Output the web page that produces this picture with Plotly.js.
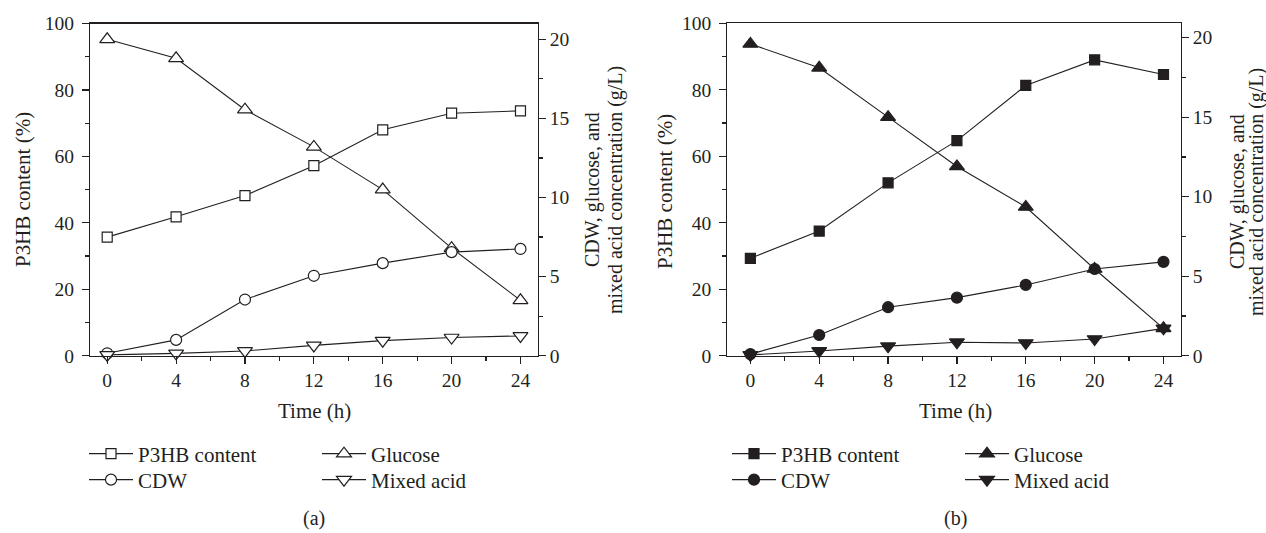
<!DOCTYPE html>
<html>
<head>
<meta charset="utf-8">
<script src="https://cdn.plot.ly/plotly-3.0.1.min.js"></script>
<style>html,body{margin:0;padding:0;background:#fff;}#chart{width:1266px;height:533px;}</style>
</head>
<body>
<div id="chart"></div>
<script>
// ---- data ----
const time = [0, 4, 8, 12, 16, 20, 24];
const xTicks = [0, 4, 8, 12, 16, 20, 24];
// panel (a)
const aP3HB = [35.7, 41.8, 48.2, 57.2, 68.0, 73.0, 73.7];      // %
const aGlucose = [20.0, 18.8, 15.55, 13.2, 10.5, 6.8, 3.5];   // g/L
const aCDW = [0.15, 1.0, 3.55, 5.05, 5.85, 6.55, 6.75];       // g/L
const aAcid = [0.05, 0.15, 0.3, 0.65, 0.95, 1.15, 1.25];      // g/L
// panel (b)
const bP3HB = [29.3, 37.5, 52.0, 64.7, 81.3, 89.0, 84.6];
const bGlucose = [19.6, 18.1, 15.0, 11.9, 9.35, 5.45, 1.72];
const bCDW = [0.1, 1.3, 3.05, 3.65, 4.45, 5.45, 5.9];
const bAcid = [0.05, 0.3, 0.6, 0.85, 0.8, 1.05, 1.72];

const names = ['P3HB content', 'Glucose', 'CDW', 'Mixed acid'];
const leftTitle = 'P3HB content (%)';
const rightTitle1 = 'CDW, glucose, and';
const rightTitle2 = 'mixed acid concentration (g/L)';
const xTitle = 'Time (h)';

// ---- geometry helpers ----
const W = 1266, H = 533;
const px = v => v / W;
const py = v => 1 - v / H;
const FONT = 'Liberation Serif, Times New Roman, serif';
const INK = '#231f20';

function mk(x, y, name, symbol, fill, size, xa, ya, leg) {
  return {
    x: x, y: y, name: name, type: 'scatter', mode: 'lines+markers',
    xaxis: xa, yaxis: ya, legend: leg,
    line: {color: INK, width: 1.1},
    marker: {symbol: symbol, size: size, color: fill, line: {color: INK, width: 1.2}},
    cliponaxis: false
  };
}

const traces = [
  // panel a
  mk(time, aP3HB, names[0], 'square', '#fff', 10, 'x', 'y', 'legend'),
  mk(time, aGlucose, names[1], 'triangle-up', '#fff', 13, 'x', 'y2', 'legend'),
  mk(time, aCDW, names[2], 'circle', '#fff', 11, 'x', 'y2', 'legend2'),
  mk(time, aAcid, names[3], 'triangle-down', '#fff', 13, 'x', 'y2', 'legend2'),
  // panel b
  mk(time, bP3HB, names[0], 'square', INK, 10, 'x2', 'y3', 'legend3'),
  mk(time, bGlucose, names[1], 'triangle-up', INK, 13, 'x2', 'y4', 'legend3'),
  mk(time, bCDW, names[2], 'circle', INK, 11, 'x2', 'y4', 'legend4'),
  mk(time, bAcid, names[3], 'triangle-down', INK, 13, 'x2', 'y4', 'legend4')
];

const tickFont = {family: FONT, size: 19.5, color: INK};
const baseAxis = {
  showgrid: false, zeroline: false, showline: true, linecolor: INK, linewidth: 1.2,
  ticks: 'outside', ticklen: 7, tickwidth: 1.2, tickcolor: INK, tickfont: tickFont,
  fixedrange: true
};
function xAxis(dom, anchor, r) {
  return Object.assign({}, baseAxis, {
    domain: dom, anchor: anchor, range: r, tickvals: xTicks, mirror: true,
    minor: {dtick: 2, ticks: 'outside', ticklen: 4, tickcolor: INK, tickwidth: 1.2, showgrid: false}
  });
}
function yLeft(anchor) {
  return Object.assign({}, baseAxis, {
    domain: [py(355.7), py(23.5)], anchor: anchor, range: [0, 100], dtick: 20, tick0: 0,
    ticklabelstandoff: 4,
    minor: {dtick: 10, ticks: 'outside', ticklen: 4, tickcolor: INK, tickwidth: 1.2, showgrid: false}
  });
}
function yRight(anchor, over, top) {
  return Object.assign({}, baseAxis, {
    anchor: anchor, overlaying: over, side: 'right', range: [0, top], dtick: 5, tick0: 0,
    ticklabelstandoff: 0,
    minor: {dtick: 2.5, ticks: 'outside', ticklen: 4, tickcolor: INK, tickwidth: 1.2, showgrid: false}
  });
}

const legFont = {family: FONT, size: 21, color: INK};
const ITEMW = 44;
function leg(textX, y) {
  return {x: px(textX - ITEMW - 10), y: py(y), xanchor: 'left', yanchor: 'middle', orientation: 'h',
    font: legFont, bgcolor: 'rgba(0,0,0,0)', itemwidth: ITEMW,
    entrywidth: 233 - ITEMW - 15, entrywidthmode: 'pixels',
    traceorder: 'normal', itemclick: false, itemdoubleclick: false};
}

function ann(x, y, text, angle, size, yanchor) {
  return {xref: 'paper', yref: 'paper', x: px(x), y: py(y), text: text, showarrow: false,
    textangle: angle || 0, xanchor: 'center', yanchor: yanchor || 'middle',
    font: {family: FONT, size: size || 21, color: INK}};
}

const layout = {
  width: W, height: H,
  margin: {l: 0, r: 0, t: 0, b: 0},
  paper_bgcolor: '#fff', plot_bgcolor: '#fff',
  showlegend: true,
  xaxis: xAxis([px(90), px(537.7)], 'y', [-1, 25]),
  yaxis: yLeft('x'),
  yaxis2: yRight('x', 'y', 21),
  xaxis2: xAxis([px(727.3), px(1180.7)], 'y3', [-1.34, 25]),
  yaxis3: Object.assign(yLeft('x2'), {domain: [py(355.7), py(23.3)]}),
  yaxis4: yRight('x2', 'y3', 20.9),
  legend: leg(138, 454),
  legend2: leg(138, 480),
  legend3: leg(781, 454),
  legend4: leg(781, 480),
  annotations: [
    ann(23, 190, leftTitle, -90),
    ann(592, 190, rightTitle1, -90, 20),
    ann(615, 190, rightTitle2, -90, 20),
    ann(314, 411, xTitle, 0),
    ann(314, 532, '(a)', 0, 20, 'bottom'),
    ann(665, 192, leftTitle, -90),
    ann(1238, 192, rightTitle1, -90, 20),
    ann(1257, 192, rightTitle2, -90, 20),
    ann(956, 411, xTitle, 0),
    ann(956, 532, '(b)', 0, 20, 'bottom')
  ]
};

Plotly.newPlot('chart', traces, layout, {staticPlot: true, displayModeBar: false});
</script>
</body>
</html>
